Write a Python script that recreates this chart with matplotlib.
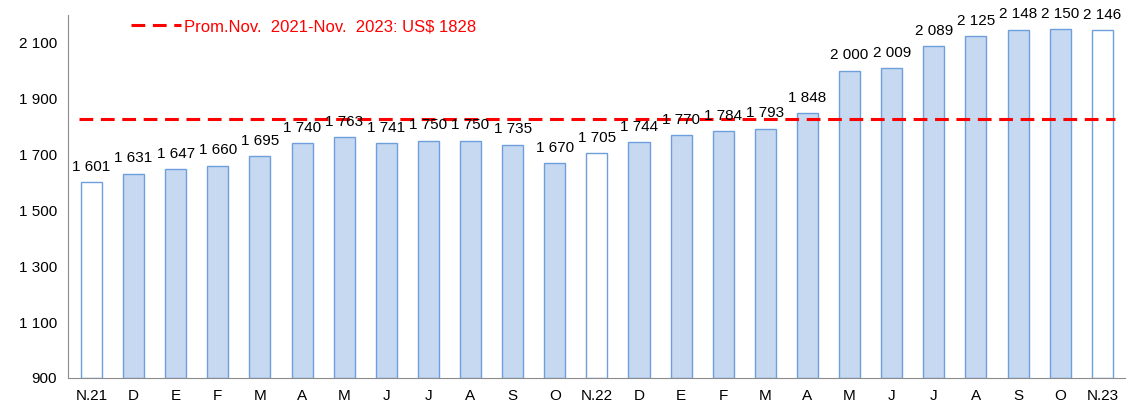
import matplotlib.pyplot as plt

plt.rcParams['font.family'] = ['Liberation Sans', 'DejaVu Sans']

months = ['N.21', 'D', 'E', 'F', 'M', 'A', 'M', 'J', 'J', 'A', 'S', 'O',
          'N.22', 'D', 'E', 'F', 'M', 'A', 'M', 'J', 'J', 'A', 'S', 'O', 'N.23']
values = [1601, 1631, 1647, 1660, 1695, 1740, 1763, 1741, 1750, 1750, 1735, 1670,
          1705, 1744, 1770, 1784, 1793, 1848, 2000, 2009, 2089, 2125, 2148, 2150, 2146]
avg = 1828
yticks = [900, 1100, 1300, 1500, 1700, 1900, 2100]

fig = plt.figure(figsize=(11.38, 4.05), dpi=100)
ax = fig.add_axes([0.06, 0.067, 0.929, 0.896])

x = list(range(len(values)))
fills = ['white' if m.startswith('N.') else '#C6D9F1' for m in months]
base = 900
ax.bar(x, [v - base for v in values], bottom=base, width=0.5,
       color=fills, edgecolor='#6E9FDC', linewidth=1.0, zorder=2)

for xi, v in zip(x, values):
    ax.text(xi, v + 30, f'{v:,}'.replace(',', ' '), ha='center', va='bottom',
            fontsize=11, color='black', zorder=4)

ax.axhline(avg, color='#FF0000', linestyle=(0, (4.5, 2.5)), linewidth=2.2,
           xmin=0.01, xmax=0.99, zorder=3,
           label='Prom.Nov.  2021-Nov.  2023: US$ 1828')

ax.set_xlim(-0.55, len(values) - 0.45)
ax.set_ylim(900, 2200)
ax.set_yticks(yticks)
ax.set_yticklabels([f'{t:,}'.replace(',', ' ') for t in yticks])
ax.set_xticks(x)
ax.set_xticklabels(months)
ax.tick_params(length=0, labelsize=11, pad=8)

for s in ['top', 'right']:
    ax.spines[s].set_visible(False)
for s in ['left', 'bottom']:
    ax.spines[s].set_color('#8C8C8C')

leg = ax.legend(loc='upper left', bbox_to_anchor=(0.045, 1.03), frameon=False,
                fontsize=12, labelcolor='#FF0000', handlelength=3.0,
                handletextpad=0.2)

plt.savefig('out.png', dpi=100)
